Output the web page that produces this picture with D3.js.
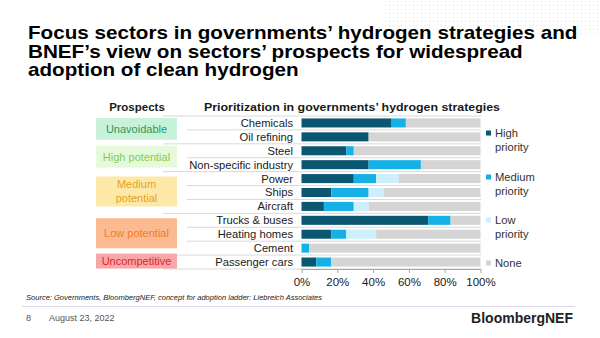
<!DOCTYPE html>
<html>
<head>
<meta charset="utf-8">
<title>Hydrogen strategies</title>
<script src="https://cdn.jsdelivr.net/npm/d3@7"></script>
<style>
  body { margin: 0; background: #fff; }
  svg { display: block; font-family: "Liberation Sans", Arial, sans-serif; }
</style>
</head>
<body>
<svg id="chart" width="600" height="338"></svg>
<script>
// sectors, top to bottom
var sectors = ["Chemicals", "Oil refining", "Steel", "Non-specific industry", "Power", "Ships",
               "Aircraft", "Trucks & buses", "Heating homes", "Cement", "Passenger cars"];
// share of government strategies (%)
var highPriority   = [50.0, 37.5, 25.0, 37.5, 29.2, 16.7, 12.5, 70.8, 16.7, 0.0, 8.3];
var mediumPriority = [ 8.3,  0.0,  4.2, 29.2, 12.5, 20.8, 16.7, 12.5,  8.3, 4.2, 8.3];
var lowPriority    = [ 0.0,  0.0,  0.0,  0.0, 12.5,  8.3,  8.3,  0.0, 16.7, 0.0, 0.0];
var seriesNames = ["High priority", "Medium priority", "Low priority", "None"];
var xTicks = [0, 20, 40, 60, 80, 100];

// prospects ladder
var prospects = ["Unavoidable", "High potential", "Medium potential", "Low potential", "Uncompetitive"];
var prospectSectors = [
  ["Chemicals", "Oil refining"],
  ["Steel", "Non-specific industry"],
  ["Power", "Ships", "Aircraft"],
  ["Trucks & buses", "Heating homes", "Cement"],
  ["Passenger cars"]
];

var seriesColors = ["#0b5670", "#14b0e6", "#cdeffb", "#d4d4d4"];
var boxFill = ["#c8f1da", "#e5fadb", "#fde9a7", "#fbba8f", "#f6a7a7"];
var boxText = ["#2c9a58", "#86cc4c", "#e6a21d", "#f47a2a", "#e2262d"];

var svg = d3.select("#chart");

// faint dot grid, top right
var defs = svg.append("defs");
defs.append("pattern").attr("id", "dots").attr("width", 4).attr("height", 4)
    .attr("patternUnits", "userSpaceOnUse")
  .append("rect").attr("x", 1).attr("y", 1).attr("width", 1).attr("height", 1).attr("fill", "#e4e4e4");
svg.append("rect").attr("x", 384).attr("y", 0).attr("width", 216).attr("height", 34).attr("fill", "url(#dots)");

// title: keep the glyph height, stretch sideways so line 1 spans the slide
var title = ["Focus sectors in governments\u2019 hydrogen strategies and",
             "BNEF\u2019s view on sectors\u2019 prospects for widespread",
             "adoption of clean hydrogen"];
var titleG = svg.append("g");
var titleText = titleG.selectAll("text").data(title).join("text")
    .attr("x", 0).attr("y", function(d, i) { return 39 + i * 18.7; })
    .attr("font-size", 17.5).attr("font-weight", "bold").attr("fill", "#000")
    .text(function(d) { return d; });
var sx = 550 / titleText.node().getComputedTextLength();
titleG.attr("transform", "translate(28,0) scale(" + sx + ",1)");

// rows
var rows = sectors.map(function(s, i) {
  var h = highPriority[i], m = mediumPriority[i], l = lowPriority[i];
  return { sector: s, vals: [h, m, l, 100 - h - m - l] };
});

var x = d3.scaleLinear().domain([0, 100]).range([301.5, 480.5]);
var y = d3.scaleBand().domain(sectors).range([116, 269]).paddingInner(0.35).paddingOuter(0.175);
var step = y.step();
var rowTop = function(s) { return y(s) - y.paddingOuter() * step; };

// group boundaries
var groupFirst = prospectSectors.map(function(g) { return g[0]; });
var seps = d3.range(sectors.length + 1).map(function(i) {
  var top = i === 0 || i === sectors.length || groupFirst.indexOf(sectors[i]) >= 0;
  return { y: 116 + i * step, major: top };
});
svg.append("g").selectAll("line").data(seps).join("line")
    .attr("x1", function(d) { return d.major ? 163 : 187; })
    .attr("x2", 481)
    .attr("y1", function(d) { return d.y; }).attr("y2", function(d) { return d.y; })
    .attr("stroke", "#d9d9d9").attr("stroke-width", 1);

// stacked bars
var stackData = rows.map(function(r) {
  var acc = 0;
  return r.vals.map(function(v, k) {
    var seg = { sector: r.sector, k: k, x0: acc, x1: acc + v };
    acc += v;
    return seg;
  });
});
svg.append("g").selectAll("g").data(stackData).join("g")
  .selectAll("rect").data(function(d) { return d.filter(function(s) { return s.x1 > s.x0; }); }).join("rect")
    .attr("x", function(d) { return x(d.x0); })
    .attr("width", function(d) { return x(d.x1) - x(d.x0); })
    .attr("y", function(d) { return y(d.sector); })
    .attr("height", y.bandwidth())
    .attr("fill", function(d) { return seriesColors[d.k]; });

// sector labels
svg.append("g").selectAll("text").data(sectors).join("text")
    .attr("x", 293).attr("y", function(d) { return y(d) + y.bandwidth() / 2; })
    .attr("dy", "0.35em").attr("text-anchor", "end")
    .attr("font-size", 11.2).attr("fill", "#1a1a1a")
    .text(function(d) { return d; });

// x axis
var axis = svg.append("g").attr("transform", "translate(0,269)")
    .call(d3.axisBottom(x).tickValues(xTicks).tickSize(4).tickSizeOuter(0)
          .tickFormat(function(d) { return d + "%"; }));
axis.select(".domain").attr("stroke", "#a6a6a6");
axis.selectAll(".tick line").attr("stroke", "#a6a6a6");
axis.selectAll(".tick text").attr("font-size", 11.5).attr("fill", "#1a1a1a")
    .attr("font-family", "Liberation Sans, Arial, sans-serif").attr("y", 9);

// headers
svg.append("text").attr("x", 137).attr("y", 107).attr("dy", "0.35em").attr("text-anchor", "middle")
    .attr("font-size", 11.5).attr("font-weight", "bold").attr("fill", "#1a1a1a").text("Prospects");
svg.append("text").attr("x", 204).attr("y", 107).attr("dy", "0.35em")
    .attr("font-size", 11.5).attr("font-weight", "bold").attr("fill", "#1a1a1a")
    .attr("textLength", 296).attr("lengthAdjust", "spacingAndGlyphs")
    .text("Prioritization in governments\u2019 hydrogen strategies");

// prospect boxes
var boxes = prospects.map(function(p, i) {
  var g = prospectSectors[i];
  var top = rowTop(g[0]), span = g.length * step;
  var h = Math.max(15, Math.min(30, span - 6));
  return { name: p, cy: top + span / 2 - 1, h: h, i: i };
});
var bg = svg.append("g").selectAll("g").data(boxes).join("g");
bg.append("rect")
    .attr("x", 96).attr("width", 81)
    .attr("y", function(d) { return d.cy - d.h / 2; })
    .attr("height", function(d) { return d.h; })
    .attr("fill", function(d) { return boxFill[d.i]; });
bg.each(function(d) {
  var words = d.name === "Medium potential" ? ["Medium", "potential"] : [d.name];
  d3.select(this).selectAll("text").data(words).join("text")
      .attr("x", 136.5)
      .attr("y", function(w, j) { return d.cy + (j - (words.length - 1) / 2) * 14; })
      .attr("dy", "0.35em").attr("text-anchor", "middle")
      .attr("font-size", 11).attr("fill", boxText[d.i])
      .text(function(w) { return w; });
});

// legend
var legendY = [133, 177, 220, 263];
var lg = svg.append("g").selectAll("g").data(seriesNames).join("g")
    .attr("transform", function(d, i) { return "translate(486," + legendY[i] + ")"; });
lg.append("rect").attr("x", 0).attr("y", -2.5).attr("width", 5).attr("height", 5)
    .attr("fill", function(d, i) { return seriesColors[i]; });
lg.each(function(d) {
  var parts = d === "None" ? ["None"] : [d.split(" ")[0], "priority"];
  d3.select(this).selectAll("text").data(parts).join("text")
      .attr("x", 9).attr("y", function(w, j) { return j * 14.5; })
      .attr("dy", "0.35em").attr("font-size", 11.2).attr("fill", "#333")
      .text(function(w) { return w; });
});

// footer
svg.append("text").attr("x", 26).attr("y", 297).attr("dy", "0.35em")
    .attr("font-size", 7.4).attr("font-style", "italic").attr("fill", "#1a1a1a")
    .attr("textLength", 296).attr("lengthAdjust", "spacingAndGlyphs")
    .text("Source: Governments, BloombergNEF, concept for adoption ladder:  Liebreich Associates");
svg.append("line").attr("x1", 22).attr("x2", 575).attr("y1", 306.5).attr("y2", 306.5)
    .attr("stroke", "#dcd6ea").attr("stroke-width", 1.2);
svg.append("text").attr("x", 26).attr("y", 318).attr("dy", "0.35em")
    .attr("font-size", 9).attr("fill", "#555").text("8");
svg.append("text").attr("x", 49).attr("y", 318).attr("dy", "0.35em")
    .attr("font-size", 9).attr("fill", "#555").text("August 23, 2022");
svg.append("text").attr("x", 573).attr("y", 318).attr("dy", "0.35em").attr("text-anchor", "end")
    .attr("font-size", 14).attr("font-weight", "bold").attr("fill", "#222").text("BloombergNEF");
</script>
</body>
</html>
